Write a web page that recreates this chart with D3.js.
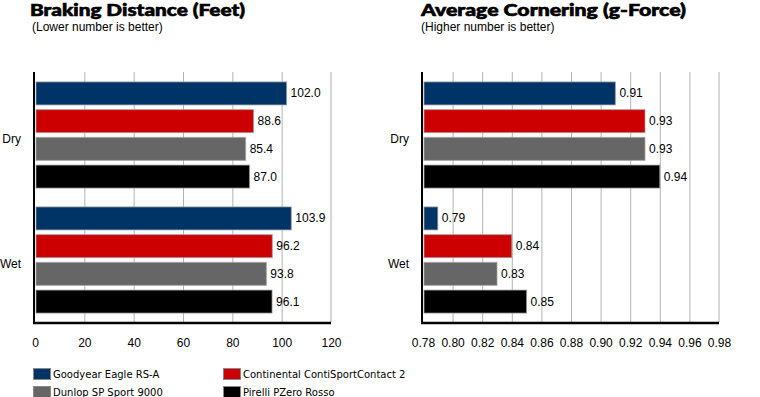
<!DOCTYPE html>
<html><head><meta charset="utf-8">
<script src="https://cdn.jsdelivr.net/npm/d3@7"></script>
<style>body{margin:0;background:#fff}svg{display:block}</style>
</head><body><svg id="c" width="760" height="397"></svg>
<script>
const categories = ["Dry", "Wet"];
const seriesNames = ["Goodyear Eagle RS-A", "Continental ContiSportContact 2", "Dunlop SP Sport 9000", "Pirelli PZero Rosso"];
const seriesColors = ["#003366", "#cc0000", "#666666", "#000000"];
const brakingDry = [102.0, 88.6, 85.4, 87.0];
const brakingWet = [103.9, 96.2, 93.8, 96.1];
const brakingLabels = [["102.0","88.6","85.4","87.0"],["103.9","96.2","93.8","96.1"]];
const corneringDry = [0.91, 0.93, 0.93, 0.94];
const corneringWet = [0.79, 0.84, 0.83, 0.85];
const corneringLabels = [["0.91","0.93","0.93","0.94"],["0.79","0.84","0.83","0.85"]];
const brakingTicks = [0, 20, 40, 60, 80, 100, 120];
const corneringTicks = [0.78, 0.80, 0.82, 0.84, 0.86, 0.88, 0.90, 0.92, 0.94, 0.96, 0.98];

const svg = d3.select("#c");
const plotTop = 72, plotBottom = 322;

function panel(opts) {
  const g = svg.append("g");
  const x = d3.scaleLinear().domain(opts.domain).range([opts.x0, opts.x1]);
  const y0 = d3.scaleBand().domain(categories).range([plotTop, plotBottom]);
  const y1 = d3.scaleBand().domain(d3.range(4)).range([0, y0.bandwidth()]).paddingInner(0.17).paddingOuter(0.34);

  // title
  g.append("text").attr("x", opts.titleX).attr("y", 16)
    .attr("font-family", "Lato, 'Open Sans', sans-serif").attr("font-weight", 900)
    .attr("font-size", 16).attr("fill", "#000")
    .attr("stroke", "#000").attr("stroke-width", 0.6)
    .attr("textLength", opts.titleW).attr("lengthAdjust", "spacingAndGlyphs")
    .text(opts.title);
  g.append("text").attr("x", opts.subX).attr("y", 30.5)
    .attr("font-family", "'Liberation Sans', Arial, sans-serif").attr("font-size", 12)
    .attr("fill", "#000").text(opts.subtitle);

  // gridlines
  const ticks = opts.ticks;
  const last = ticks[ticks.length - 1];
  g.append("g").selectAll("line").data(ticks.slice(1)).join("line")
    .attr("x1", d => x(d) + (d === last ? 0 : 0.5))
    .attr("x2", d => x(d) + (d === last ? 0 : 0.5))
    .attr("y1", plotTop).attr("y2", plotBottom)
    .attr("stroke", d => d === last ? "#d6d6d6" : "#b4b4b4")
    .attr("stroke-width", d => d === last ? 2 : 1);

  // bars
  categories.forEach((cat, ci) => {
    const vals = opts.values[ci];
    const gg = g.append("g").attr("transform", `translate(0,${y0(cat)})`);
    gg.selectAll("rect").data(vals).join("rect")
      .attr("x", x(opts.domain[0]) + 1)
      .attr("y", (d, i) => y1(i) + 0.5)
      .attr("width", d => x(d) - x(opts.domain[0]) - 1)
      .attr("height", y1.bandwidth())
      .attr("fill", (d, i) => seriesColors[i])
      .attr("stroke", "rgba(160,160,160,0.75)").attr("stroke-width", 1);
    gg.selectAll("text").data(vals).join("text")
      .attr("x", d => x(d) + 4)
      .attr("y", (d, i) => y1(i) + y1.bandwidth() / 2 + 4.5)
      .attr("font-family", "'Liberation Sans', Arial, sans-serif").attr("font-size", 12)
      .attr("fill", "#000")
      .text((d, i) => opts.labels[ci][i]);
    g.append("text").attr("x", x(opts.domain[0]) - 14)
      .attr("y", y0(cat) + y0.bandwidth() / 2 + 8)
      .attr("text-anchor", "end")
      .attr("font-family", "'Liberation Sans', Arial, sans-serif").attr("font-size", 12)
      .attr("fill", "#000").text(cat);
  });

  // axes lines
  g.append("line").attr("x1", x(opts.domain[0]) - 1).attr("x2", x(opts.domain[0]) - 1)
    .attr("y1", plotTop).attr("y2", plotBottom + 2).attr("stroke", "#000").attr("stroke-width", 2);
  g.append("line").attr("x1", x(opts.domain[0]) - 2).attr("x2", opts.x1)
    .attr("y1", plotBottom + 1).attr("y2", plotBottom + 1).attr("stroke", "#000").attr("stroke-width", 2.5);

  // tick labels via axis
  const axis = d3.axisBottom(x).tickValues(ticks).tickSize(0).tickPadding(0)
    .tickFormat(opts.fmt);
  const ag = g.append("g").attr("transform", `translate(0,${plotBottom + 16})`).call(axis);
  ag.select(".domain").remove();
  ag.selectAll("text").attr("font-family", "'Liberation Sans', Arial, sans-serif")
    .attr("font-size", 12).attr("fill", "#000").attr("dy", "0.71em");
}

panel({
  domain: [0, 120], x0: 35, x1: 331, ticks: brakingTicks, fmt: d3.format("d"),
  values: [brakingDry, brakingWet], labels: brakingLabels,
  title: "Braking Distance (Feet)", titleX: 30, titleW: 215,
  subtitle: "(Lower number is better)", subX: 32
});
panel({
  domain: [0.78, 0.98], x0: 423, x1: 719, ticks: corneringTicks, fmt: d3.format(".2f"),
  values: [corneringDry, corneringWet], labels: corneringLabels,
  title: "Average Cornering (g-Force)", titleX: 421, titleW: 265,
  subtitle: "(Higher number is better)", subX: 421
});

// legend
const legendPos = [[33, 368], [223, 368], [33, 386], [223, 386]];
const lg = svg.append("g");
seriesNames.forEach((name, i) => {
  const [lx, ly] = legendPos[i];
  lg.append("rect").attr("x", lx + 0.5).attr("y", ly + 0.5).attr("width", 17).attr("height", 11)
    .attr("fill", seriesColors[i]).attr("stroke", "#888").attr("stroke-width", 1);
  lg.append("text").attr("x", lx + 20).attr("y", ly + 10)
    .attr("font-family", "'DejaVu Sans', Verdana, sans-serif").attr("font-size", 10)
    .attr("fill", "#000").text(name);
});
</script></body></html>
